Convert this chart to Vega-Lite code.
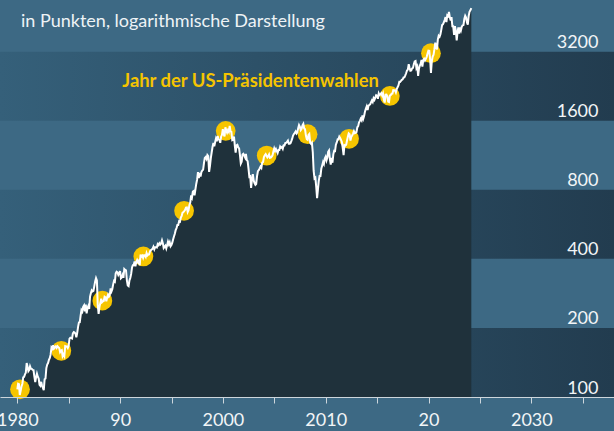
{
  "$schema": "https://vega.github.io/schema/vega-lite/v6.json",
  "width": 614,
  "height": 397,
  "autosize": {"type": "none"},
  "padding": {"top": 0, "left": 0, "right": 0, "bottom": 34},
  "background": "#3d6984",
  "config": {
    "view": {"stroke": null, "fill": "#3d6984"},
    "font": "Lato",
    "axisY": {
      "orient": "right",
      "zindex": 2,
      "grid": false,
      "domain": false,
      "ticks": false,
      "tickSize": 0,
      "labelAlign": "right",
      "labelPadding": -16,
      "labelBaseline": "alphabetic",
      "labelOffset": -4,
      "labelColor": "#f2f5f7",
      "labelFontSize": 18,
      "labelFont": "Lato",
      "labelBound": false,
      "labelFlush": false,
      "labelOverlap": false
    },
    "axisX": {
      "zindex": 2,
      "grid": false,
      "domain": true,
      "domainColor": "#cdd6dc",
      "domainWidth": 1,
      "ticks": true,
      "tickColor": "#cdd6dc",
      "tickSize": 6,
      "tickWidth": 1,
      "labelColor": "#f2f5f7",
      "labelFontSize": 18,
      "labelFont": "Lato",
      "labelPadding": 8,
      "labelFlush": false,
      "labelOverlap": false,
      "labelBound": false
    }
  },
  "datasets": {
    "bands": [
      {"lo": 100, "hi": 200},
      {"lo": 400, "hi": 800},
      {"lo": 1600, "hi": 3200}
    ],
    "elections": [
      {"d": "1980-04-05", "v": 108},
      {"d": "1984-04-12", "v": 159},
      {"d": "1988-04-09", "v": 263},
      {"d": "1992-04-05", "v": 410},
      {"d": "1996-03-22", "v": 648},
      {"d": "2000-04-09", "v": 1445},
      {"d": "2004-04-05", "v": 1128},
      {"d": "2008-03-28", "v": 1398},
      {"d": "2012-04-09", "v": 1334},
      {"d": "2016-03-28", "v": 2052},
      {"d": "2020-03-28", "v": 3149}
    ],
    "spx": [
      {"d":"1980-01-01","v":107.94},
      {"d":"1980-01-28","v":114.16},{"d":"1980-02-28","v":113.66},{"d":"1980-03-28","v":102.09},{"d":"1980-04-28","v":106.29},{"d":"1980-05-28","v":111.24},{"d":"1980-06-28","v":114.24},{"d":"1980-07-28","v":121.67},{"d":"1980-08-28","v":122.38},{"d":"1980-09-28","v":125.46},{"d":"1980-10-28","v":127.47},{"d":"1980-11-28","v":140.52},{"d":"1980-12-28","v":135.76},
      {"d":"1981-01-28","v":129.55},{"d":"1981-02-28","v":131.27},{"d":"1981-03-28","v":136.00},{"d":"1981-04-28","v":132.81},{"d":"1981-05-28","v":132.59},{"d":"1981-06-28","v":131.21},{"d":"1981-07-28","v":130.92},{"d":"1981-08-28","v":122.79},{"d":"1981-09-28","v":116.18},{"d":"1981-10-28","v":121.89},{"d":"1981-11-28","v":126.35},{"d":"1981-12-28","v":122.55},
      {"d":"1982-01-28","v":120.40},{"d":"1982-02-28","v":113.11},{"d":"1982-03-28","v":111.96},{"d":"1982-04-28","v":116.44},{"d":"1982-05-28","v":111.88},{"d":"1982-06-28","v":109.61},{"d":"1982-07-28","v":107.09},{"d":"1982-08-28","v":119.51},{"d":"1982-09-28","v":120.42},{"d":"1982-10-28","v":133.71},{"d":"1982-11-28","v":138.54},{"d":"1982-12-28","v":140.64},
      {"d":"1983-01-28","v":145.30},{"d":"1983-02-28","v":148.06},{"d":"1983-03-28","v":152.96},{"d":"1983-04-28","v":164.42},{"d":"1983-05-28","v":162.39},{"d":"1983-06-28","v":168.11},{"d":"1983-07-28","v":162.56},{"d":"1983-08-28","v":164.40},{"d":"1983-09-28","v":166.07},{"d":"1983-10-28","v":163.55},{"d":"1983-11-28","v":166.40},{"d":"1983-12-28","v":164.93},
      {"d":"1984-01-28","v":163.41},{"d":"1984-02-28","v":157.06},{"d":"1984-03-28","v":159.18},{"d":"1984-04-28","v":160.05},{"d":"1984-05-28","v":150.55},{"d":"1984-06-28","v":153.18},{"d":"1984-07-28","v":150.66},{"d":"1984-08-28","v":166.68},{"d":"1984-09-28","v":166.10},{"d":"1984-10-28","v":166.09},{"d":"1984-11-28","v":163.58},{"d":"1984-12-28","v":167.24},
      {"d":"1985-01-28","v":179.63},{"d":"1985-02-28","v":181.18},{"d":"1985-03-28","v":180.66},{"d":"1985-04-28","v":179.83},{"d":"1985-05-28","v":189.55},{"d":"1985-06-28","v":191.85},{"d":"1985-07-28","v":190.92},{"d":"1985-08-28","v":188.63},{"d":"1985-09-28","v":182.08},{"d":"1985-10-28","v":189.82},{"d":"1985-11-28","v":202.17},{"d":"1985-12-28","v":211.28},
      {"d":"1986-01-28","v":211.78},{"d":"1986-02-28","v":226.92},{"d":"1986-03-28","v":238.90},{"d":"1986-04-28","v":235.52},{"d":"1986-05-28","v":247.35},{"d":"1986-06-28","v":250.84},{"d":"1986-07-28","v":236.12},{"d":"1986-08-28","v":252.93},{"d":"1986-09-28","v":231.32},{"d":"1986-10-28","v":243.98},{"d":"1986-11-28","v":249.22},{"d":"1986-12-28","v":242.17},
      {"d":"1987-01-28","v":274.08},{"d":"1987-02-28","v":284.20},{"d":"1987-03-28","v":291.70},{"d":"1987-04-28","v":288.36},{"d":"1987-05-28","v":290.10},{"d":"1987-06-28","v":304.00},{"d":"1987-07-28","v":318.66},{"d":"1987-08-28","v":329.80},{"d":"1987-09-28","v":321.83},{"d":"1987-10-28","v":251.79},{"d":"1987-11-28","v":230.30},{"d":"1987-12-28","v":247.08},
      {"d":"1988-01-28","v":257.07},{"d":"1988-02-28","v":267.82},{"d":"1988-03-28","v":258.89},{"d":"1988-04-28","v":261.33},{"d":"1988-05-28","v":262.16},{"d":"1988-06-28","v":273.50},{"d":"1988-07-28","v":272.02},{"d":"1988-08-28","v":261.52},{"d":"1988-09-28","v":271.91},{"d":"1988-10-28","v":278.97},{"d":"1988-11-28","v":273.70},{"d":"1988-12-28","v":277.72},
      {"d":"1989-01-28","v":297.47},{"d":"1989-02-28","v":288.86},{"d":"1989-03-28","v":294.87},{"d":"1989-04-28","v":309.64},{"d":"1989-05-28","v":320.52},{"d":"1989-06-28","v":317.98},{"d":"1989-07-28","v":346.08},{"d":"1989-08-28","v":351.45},{"d":"1989-09-28","v":349.15},{"d":"1989-10-28","v":340.36},{"d":"1989-11-28","v":345.99},{"d":"1989-12-28","v":353.40},
      {"d":"1990-01-28","v":329.08},{"d":"1990-02-28","v":331.89},{"d":"1990-03-28","v":339.94},{"d":"1990-04-28","v":330.80},{"d":"1990-05-28","v":361.23},{"d":"1990-06-28","v":358.02},{"d":"1990-07-28","v":356.15},{"d":"1990-08-28","v":322.56},{"d":"1990-09-28","v":306.05},{"d":"1990-10-28","v":304.00},{"d":"1990-11-28","v":322.22},{"d":"1990-12-28","v":330.22},
      {"d":"1991-01-28","v":343.93},{"d":"1991-02-28","v":367.07},{"d":"1991-03-28","v":375.22},{"d":"1991-04-28","v":375.34},{"d":"1991-05-28","v":389.83},{"d":"1991-06-28","v":371.16},{"d":"1991-07-28","v":387.81},{"d":"1991-08-28","v":395.43},{"d":"1991-09-28","v":387.86},{"d":"1991-10-28","v":392.46},{"d":"1991-11-28","v":375.22},{"d":"1991-12-28","v":417.09},
      {"d":"1992-01-28","v":408.79},{"d":"1992-02-28","v":412.70},{"d":"1992-03-28","v":403.69},{"d":"1992-04-28","v":414.95},{"d":"1992-05-28","v":415.35},{"d":"1992-06-28","v":408.14},{"d":"1992-07-28","v":424.21},{"d":"1992-08-28","v":414.03},{"d":"1992-09-28","v":417.80},{"d":"1992-10-28","v":418.68},{"d":"1992-11-28","v":431.35},{"d":"1992-12-28","v":435.71},
      {"d":"1993-01-28","v":438.78},{"d":"1993-02-28","v":443.38},{"d":"1993-03-28","v":451.67},{"d":"1993-04-28","v":440.19},{"d":"1993-05-28","v":450.19},{"d":"1993-06-28","v":450.53},{"d":"1993-07-28","v":448.13},{"d":"1993-08-28","v":463.56},{"d":"1993-09-28","v":458.93},{"d":"1993-10-28","v":467.83},{"d":"1993-11-28","v":461.79},{"d":"1993-12-28","v":466.45},
      {"d":"1994-01-28","v":481.61},{"d":"1994-02-28","v":467.14},{"d":"1994-03-28","v":445.77},{"d":"1994-04-28","v":450.91},{"d":"1994-05-28","v":456.50},{"d":"1994-06-28","v":444.27},{"d":"1994-07-28","v":458.26},{"d":"1994-08-28","v":475.49},{"d":"1994-09-28","v":462.69},{"d":"1994-10-28","v":472.35},{"d":"1994-11-28","v":453.69},{"d":"1994-12-28","v":459.27},
      {"d":"1995-01-28","v":470.42},{"d":"1995-02-28","v":487.39},{"d":"1995-03-28","v":500.71},{"d":"1995-04-28","v":514.71},{"d":"1995-05-28","v":533.40},{"d":"1995-06-28","v":544.75},{"d":"1995-07-28","v":562.06},{"d":"1995-08-28","v":561.88},{"d":"1995-09-28","v":584.41},{"d":"1995-10-28","v":581.50},{"d":"1995-11-28","v":605.37},{"d":"1995-12-28","v":615.93},
      {"d":"1996-01-28","v":636.02},{"d":"1996-02-28","v":640.43},{"d":"1996-03-28","v":645.50},{"d":"1996-04-28","v":654.17},{"d":"1996-05-28","v":669.12},{"d":"1996-06-28","v":670.63},{"d":"1996-07-28","v":639.95},{"d":"1996-08-28","v":651.99},{"d":"1996-09-28","v":687.31},{"d":"1996-10-28","v":705.27},{"d":"1996-11-28","v":757.02},{"d":"1996-12-28","v":740.74},
      {"d":"1997-01-28","v":786.16},{"d":"1997-02-28","v":790.82},{"d":"1997-03-28","v":757.12},{"d":"1997-04-28","v":801.34},{"d":"1997-05-28","v":848.28},{"d":"1997-06-28","v":885.14},{"d":"1997-07-28","v":954.29},{"d":"1997-08-28","v":899.47},{"d":"1997-09-28","v":947.28},{"d":"1997-10-28","v":914.62},{"d":"1997-11-28","v":955.40},{"d":"1997-12-28","v":970.43},
      {"d":"1998-01-28","v":980.28},{"d":"1998-02-28","v":1049.34},{"d":"1998-03-28","v":1101.75},{"d":"1998-04-28","v":1111.75},{"d":"1998-05-28","v":1090.82},{"d":"1998-06-28","v":1133.84},{"d":"1998-07-28","v":1120.67},{"d":"1998-08-28","v":957.28},{"d":"1998-09-28","v":1017.01},{"d":"1998-10-28","v":1098.67},{"d":"1998-11-28","v":1163.63},{"d":"1998-12-28","v":1229.23},
      {"d":"1999-01-28","v":1279.64},{"d":"1999-02-28","v":1238.33},{"d":"1999-03-28","v":1286.37},{"d":"1999-04-28","v":1335.18},{"d":"1999-05-28","v":1301.84},{"d":"1999-06-28","v":1372.71},{"d":"1999-07-28","v":1328.72},{"d":"1999-08-28","v":1320.41},{"d":"1999-09-28","v":1282.71},{"d":"1999-10-28","v":1362.93},{"d":"1999-11-28","v":1388.91},{"d":"1999-12-28","v":1469.25},
      {"d":"2000-01-28","v":1394.46},{"d":"2000-02-28","v":1366.42},{"d":"2000-03-28","v":1498.58},{"d":"2000-04-28","v":1452.43},{"d":"2000-05-28","v":1420.60},{"d":"2000-06-28","v":1454.60},{"d":"2000-07-28","v":1430.83},{"d":"2000-08-28","v":1517.68},{"d":"2000-09-28","v":1436.51},{"d":"2000-10-28","v":1429.40},{"d":"2000-11-28","v":1314.95},{"d":"2000-12-28","v":1320.28},
      {"d":"2001-01-28","v":1366.01},{"d":"2001-02-28","v":1239.94},{"d":"2001-03-28","v":1160.33},{"d":"2001-04-28","v":1249.46},{"d":"2001-05-28","v":1255.82},{"d":"2001-06-28","v":1224.38},{"d":"2001-07-28","v":1211.23},{"d":"2001-08-28","v":1133.58},{"d":"2001-09-28","v":1040.94},{"d":"2001-10-28","v":1059.78},{"d":"2001-11-28","v":1139.45},{"d":"2001-12-28","v":1148.08},
      {"d":"2002-01-28","v":1130.20},{"d":"2002-02-28","v":1106.73},{"d":"2002-03-28","v":1147.39},{"d":"2002-04-28","v":1076.92},{"d":"2002-05-28","v":1067.14},{"d":"2002-06-28","v":989.82},{"d":"2002-07-28","v":911.62},{"d":"2002-08-28","v":916.07},{"d":"2002-09-28","v":815.28},{"d":"2002-10-28","v":885.76},{"d":"2002-11-28","v":936.31},{"d":"2002-12-28","v":879.82},
      {"d":"2003-01-28","v":855.70},{"d":"2003-02-28","v":841.15},{"d":"2003-03-28","v":848.18},{"d":"2003-04-28","v":916.92},{"d":"2003-05-28","v":963.59},{"d":"2003-06-28","v":974.50},{"d":"2003-07-28","v":990.31},{"d":"2003-08-28","v":1008.01},{"d":"2003-09-28","v":995.97},{"d":"2003-10-28","v":1050.71},{"d":"2003-11-28","v":1058.20},{"d":"2003-12-28","v":1111.92},
      {"d":"2004-01-28","v":1131.13},{"d":"2004-02-28","v":1144.94},{"d":"2004-03-28","v":1126.21},{"d":"2004-04-28","v":1107.30},{"d":"2004-05-28","v":1120.68},{"d":"2004-06-28","v":1140.84},{"d":"2004-07-28","v":1101.72},{"d":"2004-08-28","v":1104.24},{"d":"2004-09-28","v":1114.58},{"d":"2004-10-28","v":1130.20},{"d":"2004-11-28","v":1173.82},{"d":"2004-12-28","v":1211.92},
      {"d":"2005-01-28","v":1181.27},{"d":"2005-02-28","v":1203.60},{"d":"2005-03-28","v":1180.59},{"d":"2005-04-28","v":1156.85},{"d":"2005-05-28","v":1191.50},{"d":"2005-06-28","v":1191.33},{"d":"2005-07-28","v":1234.18},{"d":"2005-08-28","v":1220.33},{"d":"2005-09-28","v":1228.81},{"d":"2005-10-28","v":1207.01},{"d":"2005-11-28","v":1249.48},{"d":"2005-12-28","v":1248.29},
      {"d":"2006-01-28","v":1280.08},{"d":"2006-02-28","v":1280.66},{"d":"2006-03-28","v":1294.83},{"d":"2006-04-28","v":1310.61},{"d":"2006-05-28","v":1270.09},{"d":"2006-06-28","v":1270.20},{"d":"2006-07-28","v":1276.66},{"d":"2006-08-28","v":1303.82},{"d":"2006-09-28","v":1335.85},{"d":"2006-10-28","v":1377.94},{"d":"2006-11-28","v":1400.63},{"d":"2006-12-28","v":1418.30},
      {"d":"2007-01-28","v":1438.24},{"d":"2007-02-28","v":1406.82},{"d":"2007-03-28","v":1420.86},{"d":"2007-04-28","v":1482.37},{"d":"2007-05-28","v":1530.62},{"d":"2007-06-28","v":1503.35},{"d":"2007-07-28","v":1455.27},{"d":"2007-08-28","v":1473.99},{"d":"2007-09-28","v":1526.75},{"d":"2007-10-28","v":1549.38},{"d":"2007-11-28","v":1481.14},{"d":"2007-12-28","v":1468.36},
      {"d":"2008-01-28","v":1378.55},{"d":"2008-02-28","v":1330.63},{"d":"2008-03-28","v":1322.70},{"d":"2008-04-28","v":1385.59},{"d":"2008-05-28","v":1400.38},{"d":"2008-06-28","v":1280.00},{"d":"2008-07-28","v":1267.38},{"d":"2008-08-28","v":1282.83},{"d":"2008-09-28","v":1166.36},{"d":"2008-10-28","v":968.75},{"d":"2008-11-28","v":896.24},{"d":"2008-12-28","v":903.25},
      {"d":"2009-01-28","v":825.88},{"d":"2009-02-28","v":735.09},{"d":"2009-03-28","v":797.87},{"d":"2009-04-28","v":872.81},{"d":"2009-05-28","v":919.14},{"d":"2009-06-28","v":919.32},{"d":"2009-07-28","v":987.48},{"d":"2009-08-28","v":1020.62},{"d":"2009-09-28","v":1057.08},{"d":"2009-10-28","v":1036.19},{"d":"2009-11-28","v":1095.63},{"d":"2009-12-28","v":1115.10},
      {"d":"2010-01-28","v":1073.87},{"d":"2010-02-28","v":1104.49},{"d":"2010-03-28","v":1169.43},{"d":"2010-04-28","v":1186.69},{"d":"2010-05-28","v":1089.41},{"d":"2010-06-28","v":1030.71},{"d":"2010-07-28","v":1101.60},{"d":"2010-08-28","v":1049.33},{"d":"2010-09-28","v":1141.20},{"d":"2010-10-28","v":1183.26},{"d":"2010-11-28","v":1180.55},{"d":"2010-12-28","v":1257.64},
      {"d":"2011-01-28","v":1286.12},{"d":"2011-02-28","v":1327.22},{"d":"2011-03-28","v":1325.83},{"d":"2011-04-28","v":1363.61},{"d":"2011-05-28","v":1345.20},{"d":"2011-06-28","v":1320.64},{"d":"2011-07-28","v":1292.28},{"d":"2011-08-28","v":1218.89},{"d":"2011-09-28","v":1131.42},{"d":"2011-10-28","v":1253.30},{"d":"2011-11-28","v":1246.96},{"d":"2011-12-28","v":1257.60},
      {"d":"2012-01-28","v":1312.41},{"d":"2012-02-28","v":1365.68},{"d":"2012-03-28","v":1408.47},{"d":"2012-04-28","v":1397.91},{"d":"2012-05-28","v":1310.33},{"d":"2012-06-28","v":1362.16},{"d":"2012-07-28","v":1379.32},{"d":"2012-08-28","v":1406.58},{"d":"2012-09-28","v":1440.67},{"d":"2012-10-28","v":1412.16},{"d":"2012-11-28","v":1416.18},{"d":"2012-12-28","v":1426.19},
      {"d":"2013-01-28","v":1498.11},{"d":"2013-02-28","v":1514.68},{"d":"2013-03-28","v":1569.19},{"d":"2013-04-28","v":1597.57},{"d":"2013-05-28","v":1630.74},{"d":"2013-06-28","v":1606.28},{"d":"2013-07-28","v":1685.73},{"d":"2013-08-28","v":1632.97},{"d":"2013-09-28","v":1681.55},{"d":"2013-10-28","v":1756.54},{"d":"2013-11-28","v":1805.81},{"d":"2013-12-28","v":1848.36},
      {"d":"2014-01-28","v":1782.59},{"d":"2014-02-28","v":1859.45},{"d":"2014-03-28","v":1872.34},{"d":"2014-04-28","v":1883.95},{"d":"2014-05-28","v":1923.57},{"d":"2014-06-28","v":1960.23},{"d":"2014-07-28","v":1930.67},{"d":"2014-08-28","v":2003.37},{"d":"2014-09-28","v":1972.29},{"d":"2014-10-28","v":2018.05},{"d":"2014-11-28","v":2067.56},{"d":"2014-12-28","v":2058.90},
      {"d":"2015-01-28","v":1994.99},{"d":"2015-02-28","v":2104.50},{"d":"2015-03-28","v":2067.89},{"d":"2015-04-28","v":2085.51},{"d":"2015-05-28","v":2107.39},{"d":"2015-06-28","v":2063.11},{"d":"2015-07-28","v":2103.84},{"d":"2015-08-28","v":1972.18},{"d":"2015-09-28","v":1920.03},{"d":"2015-10-28","v":2079.36},{"d":"2015-11-28","v":2080.41},{"d":"2015-12-28","v":2043.94},
      {"d":"2016-01-28","v":1940.24},{"d":"2016-02-28","v":1932.23},{"d":"2016-03-28","v":2059.74},{"d":"2016-04-28","v":2065.30},{"d":"2016-05-28","v":2096.95},{"d":"2016-06-28","v":2098.86},{"d":"2016-07-28","v":2173.60},{"d":"2016-08-28","v":2170.95},{"d":"2016-09-28","v":2168.27},{"d":"2016-10-28","v":2126.15},{"d":"2016-11-28","v":2198.81},{"d":"2016-12-28","v":2238.83},
      {"d":"2017-01-28","v":2278.87},{"d":"2017-02-28","v":2363.64},{"d":"2017-03-28","v":2362.72},{"d":"2017-04-28","v":2384.20},{"d":"2017-05-28","v":2411.80},{"d":"2017-06-28","v":2423.41},{"d":"2017-07-28","v":2470.30},{"d":"2017-08-28","v":2471.65},{"d":"2017-09-28","v":2519.36},{"d":"2017-10-28","v":2575.26},{"d":"2017-11-28","v":2647.58},{"d":"2017-12-28","v":2673.61},
      {"d":"2018-01-28","v":2823.81},{"d":"2018-02-28","v":2713.83},{"d":"2018-03-28","v":2640.87},{"d":"2018-04-28","v":2648.05},{"d":"2018-05-28","v":2705.27},{"d":"2018-06-28","v":2718.37},{"d":"2018-07-28","v":2816.29},{"d":"2018-08-28","v":2901.52},{"d":"2018-09-28","v":2913.98},{"d":"2018-10-28","v":2711.74},{"d":"2018-11-28","v":2760.17},{"d":"2018-12-28","v":2506.85},
      {"d":"2019-01-28","v":2704.10},{"d":"2019-02-28","v":2784.49},{"d":"2019-03-28","v":2834.40},{"d":"2019-04-28","v":2945.83},{"d":"2019-05-28","v":2752.06},{"d":"2019-06-28","v":2941.76},{"d":"2019-07-28","v":2980.38},{"d":"2019-08-28","v":2926.46},{"d":"2019-09-28","v":2976.74},{"d":"2019-10-28","v":3037.56},{"d":"2019-11-28","v":3140.98},{"d":"2019-12-28","v":3230.78},
      {"d":"2020-01-28","v":3225.52},{"d":"2020-02-28","v":2954.22},{"d":"2020-03-28","v":2584.59},{"d":"2020-04-28","v":2912.43},{"d":"2020-05-28","v":3044.31},{"d":"2020-06-28","v":3100.29},{"d":"2020-07-28","v":3271.12},{"d":"2020-08-28","v":3500.31},{"d":"2020-09-28","v":3363.00},{"d":"2020-10-28","v":3269.96},{"d":"2020-11-28","v":3621.63},{"d":"2020-12-28","v":3756.07},
      {"d":"2021-01-28","v":3714.24},{"d":"2021-02-28","v":3811.15},{"d":"2021-03-28","v":3972.89},{"d":"2021-04-28","v":4181.17},{"d":"2021-05-28","v":4204.11},{"d":"2021-06-28","v":4297.50},{"d":"2021-07-28","v":4395.26},{"d":"2021-08-28","v":4522.68},{"d":"2021-09-28","v":4307.54},{"d":"2021-10-28","v":4605.38},{"d":"2021-11-28","v":4567.00},{"d":"2021-12-28","v":4766.18},
      {"d":"2022-01-28","v":4515.55},{"d":"2022-02-28","v":4373.94},{"d":"2022-03-28","v":4530.41},{"d":"2022-04-28","v":4131.93},{"d":"2022-05-28","v":4132.15},{"d":"2022-06-28","v":3785.38},{"d":"2022-07-28","v":4130.29},{"d":"2022-08-28","v":3955.00},{"d":"2022-09-28","v":3585.62},{"d":"2022-10-28","v":3871.98},{"d":"2022-11-28","v":4080.11},{"d":"2022-12-28","v":3839.50},
      {"d":"2023-01-28","v":4076.60},{"d":"2023-02-28","v":3970.15},{"d":"2023-03-28","v":4109.31},{"d":"2023-04-28","v":4169.48},{"d":"2023-05-28","v":4179.83},{"d":"2023-06-28","v":4450.38},{"d":"2023-07-28","v":4588.96},{"d":"2023-08-28","v":4507.66},{"d":"2023-09-28","v":4288.05},{"d":"2023-10-28","v":4193.80},{"d":"2023-11-28","v":4567.80},{"d":"2023-12-28","v":4769.83},
      {"d":"2024-01-28","v":4845.65},{"d":"2024-03-01","v":4950.00}
    ]
  },
  "layer": [
    {
      "data": {"name": "bands"},
      "mark": {
        "type": "rect",
        "color": {
          "gradient": "linear",
          "x1": 0, "x2": 1, "y1": 0, "y2": 0,
          "stops": [
            {"offset": 0, "color": "#35607a"},
            {"offset": 1, "color": "#223c4f"}
          ]
        }
      },
      "encoding": {
        "y": {
          "field": "lo", "type": "quantitative", "title": null,
          "scale": {"type": "log", "domain": [100, 5373], "nice": false},
          "axis": {"values": [100, 200, 400, 800, 1600, 3200], "labelExpr": "'' + datum.value", "zindex": 2}
        },
        "y2": {"field": "hi"}
      }
    },
    {
      "data": {"name": "spx"},
      "mark": {"type": "area", "color": "#1f313b", "clip": true},
      "encoding": {
        "x": {
          "field": "d",
          "type": "temporal",
          "title": null,
          "scale": {"domain": [{"year": 1978, "month": 4, "date": 25}, {"year": 2038, "month": 1, "date": 17}], "nice": false},
          "axis": {
            "zindex": 2,
            "values": [
              {"year": 1980, "month": 1, "date": 1}, {"year": 1985, "month": 1, "date": 1},
              {"year": 1990, "month": 1, "date": 1}, {"year": 1995, "month": 1, "date": 1},
              {"year": 2000, "month": 1, "date": 1}, {"year": 2005, "month": 1, "date": 1},
              {"year": 2010, "month": 1, "date": 1}, {"year": 2015, "month": 1, "date": 1},
              {"year": 2020, "month": 1, "date": 1}, {"year": 2025, "month": 1, "date": 1},
              {"year": 2030, "month": 1, "date": 1}, {"year": 2035, "month": 1, "date": 1}
            ],
            "labelExpr": "year(datum.value) % 10 != 0 ? '' : (year(datum.value) == 1990 ? '90' : (year(datum.value) == 2020 ? '20' : '' + year(datum.value)))"
          }
        },
        "y": {"field": "v", "type": "quantitative", "title": null, "scale": {"type": "log", "domain": [100, 5373], "nice": false}},
        "y2": {"datum": 100}
      }
    },
    {
      "data": {"name": "elections"},
      "mark": {"type": "circle", "color": "#f6c500", "opacity": 1, "size": 390},
      "encoding": {
        "x": {"field": "d", "type": "temporal", "title": null},
        "y": {"field": "v", "type": "quantitative", "title": null, "scale": {"type": "log", "domain": [100, 5373], "nice": false}}
      }
    },
    {
      "data": {"name": "spx"},
      "mark": {"type": "line", "color": "#ffffff", "strokeWidth": 2, "clip": true},
      "encoding": {
        "x": {"field": "d", "type": "temporal", "title": null},
        "y": {"field": "v", "type": "quantitative", "title": null, "scale": {"type": "log", "domain": [100, 5373], "nice": false}}
      }
    },
    {
      "data": {"values": [{"label": "in Punkten, logarithmische Darstellung"}]},
      "mark": {
        "type": "text",
        "align": "left",
        "baseline": "alphabetic",
        "color": "#eef3f6",
        "fontSize": 18,
        "fontWeight": "normal",
        "font": "Lato"
      },
      "encoding": {
        "x": {"datum": {"year": 1980, "month": 5, "date": 11}, "type": "temporal"},
        "y": {"datum": 4112, "type": "quantitative", "scale": {"type": "log", "domain": [100, 5373], "nice": false}},
        "text": {"field": "label"}
      }
    },
    {
      "data": {"values": [{"label": "Jahr der US-Präsidentenwahlen"}]},
      "mark": {
        "type": "text",
        "align": "left",
        "baseline": "alphabetic",
        "color": "#f5c400",
        "fontSize": 18.4,
        "fontWeight": "bold",
        "font": "Lato"
      },
      "encoding": {
        "x": {"datum": {"year": 1990, "month": 3, "date": 19}, "type": "temporal"},
        "y": {"datum": 2253, "type": "quantitative", "scale": {"type": "log", "domain": [100, 5373], "nice": false}},
        "text": {"field": "label"}
      }
    }
  ]
}
